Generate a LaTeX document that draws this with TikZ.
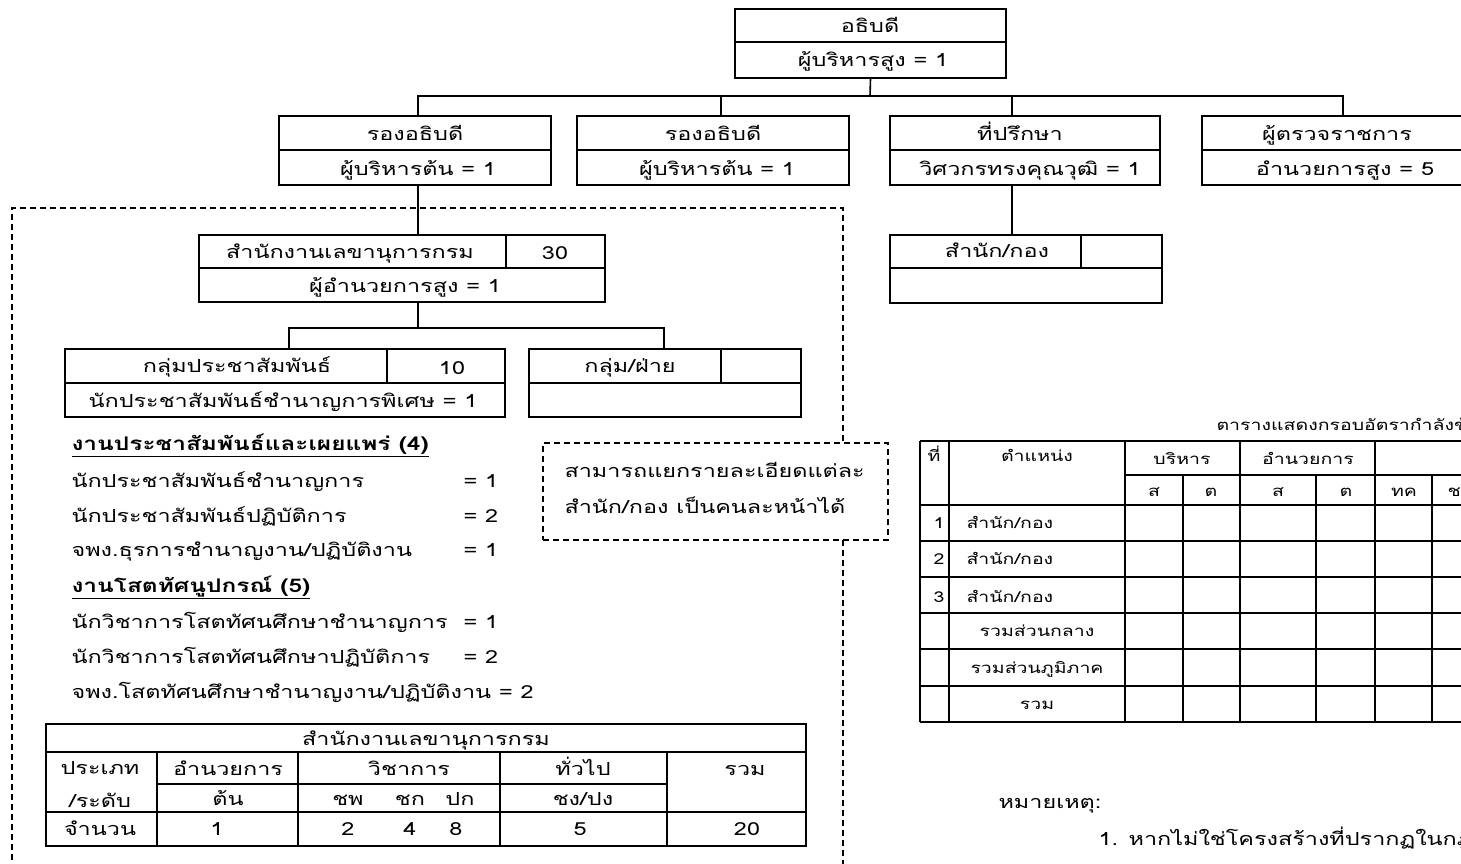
\documentclass[tikz,border=0pt]{standalone}
\usepackage{fontspec}
\setmainfont[Script=Thai, FakeStretch=1.3]{Loma}

\begin{document}
\begin{tikzpicture}[x=1pt,y=1pt,yscale=-1,xscale=1,line width=1.6pt,
  box/.style={draw, inner sep=0pt},
  txt/.style={inner sep=0.75pt, anchor=mid, font=\fontsize{18}{21}\selectfont},
  sml/.style={inner sep=0.75pt, anchor=mid, font=\fontsize{15}{18}\selectfont},
  hd/.style={inner sep=0.75pt, anchor=mid west, font=\fontsize{18.8}{22}\selectfont\bfseries},
  dashline/.style={dash pattern=on 6pt off 4pt, line width=1.3pt}]
        \useasboundingbox (0,0) rectangle (1461,864);
        \clip (0,0) rectangle (1461,864);

        %Shape: Rectangle [top]
        \node[box, minimum width=271pt, minimum height=69pt] (dg) at (870.5,43.5) {};
        \draw (735,42) -- (1006,42);
        %Shape: Rectangle [row 2]
        \node[box, minimum width=272pt, minimum height=69pt] (dep1) at (415,150.5) {};
        \draw (279,150) -- (551,150);
        \node[box, minimum width=272pt, minimum height=69pt] (dep2) at (713,150.5) {};
        \draw (577,150) -- (849,150);
        \node[box, minimum width=270pt, minimum height=69pt] (adv) at (1025,150.5) {};
        \draw (890,150) -- (1160,150);
        \node[box, minimum width=272pt, minimum height=69pt] (insp) at (1338,150.5) {};
        \draw (1202,150) -- (1474,150);
        %Shape: Rectangle [secretariat]
        \node[box, minimum width=406pt, minimum height=67pt] (sec) at (402,268.5) {};
        \draw (199,268) -- (605,268) (506,235) -- (506,268);
        %Shape: Rectangle [office]
        \node[box, minimum width=272pt, minimum height=68pt] (off) at (1026,269) {};
        \draw (890,268) -- (1162,268) (1081,235) -- (1081,268);
        %Shape: Rectangle [groups]
        \node[box, minimum width=440pt, minimum height=68pt] (pr) at (285,383) {};
        \draw (65,383) -- (505,383) (387,349) -- (387,383);
        \node[box, minimum width=272pt, minimum height=68pt] (grp) at (665,383) {};
        \draw (529,383) -- (801,383) (721,349) -- (721,383);

        % Connectors
        \coordinate (bar) at (870,96);
        \coordinate (d1) at (418,116);
        \coordinate (d2) at (721,116);
        \coordinate (d3) at (1012,116);
        \coordinate (d4) at (1343,116);
        \draw (dg.south) -- (bar);
        \draw (d1) |- (bar) -| (d4);
        \draw (d2) -- (d2 |- bar);
        \draw (d3) -- (d3 |- bar);
        \draw (d1 |- dep1.south) -- (d1 |- sec.north);
        \draw (d3 |- adv.south) -- (d3 |- off.north);
        \coordinate (bar2) at (418,328);
        \coordinate (g1) at (289,349);
        \coordinate (g2) at (664,349);
        \draw (bar2 |- sec.south) -- (bar2);
        \draw (g1) |- (bar2) -| (g2);

        %Shape: Dashed frame and note
        \draw[dashline] (12,870) -- (12,208) -- (843,208) -- (843,443);
        \draw[dashline] (843,540) -- (843,870);
        \node[draw, dashline, minimum width=345pt, minimum height=97pt] (note) at (715.5,491.5) {};

        % Text Node
        \node[txt] (dgt) at (870,30) {อธิบดี};
        \node[txt] (dgb) at (873,64) {ผู้บริหารสูง = 1};
        \node[txt] (dep1t) at (415,138) {รองอธิบดี};
        \node[txt] (dep1b) at (418,173) {ผู้บริหารต้น = 1};
        \node[txt] (dep2t) at (713,138) {รองอธิบดี};
        \node[txt] (dep2b) at (717,173) {ผู้บริหารต้น = 1};
        \node[txt] (advt) at (1020,138) {ที่ปรึกษา};
        \node[txt] (advb) at (1030,173) {วิศวกรทรงคุณวุฒิ = 1};
        \node[txt] (inspt) at (1337,138) {ผู้ตรวจราชการ};
        \node[txt] (inspb) at (1345,173) {อำนวยการสูง = 5};
        \node[txt] (sect) at (350,256) {สำนักงานเลขานุการกรม};
        \node[txt] (secn) at (555,257) {30};
        \node[txt] (secb) at (405,290) {ผู้อำนวยการสูง = 1};
        \node[txt] (offt) at (997,255) {สำนัก/กอง};
        \node[txt] (prt) at (237,370) {กลุ่มประชาสัมพันธ์};
        \node[txt] (prn) at (452,372) {10};
        \node[txt] (prb) at (283,405) {นักประชาสัมพันธ์ชำนาญการพิเศษ = 1};
        \node[txt] (grpt) at (630,370) {กลุ่ม/ฝ่าย};

        % Text Node [lists]
        \node[hd] (h1) at (70,448) {\underline{งานประชาสัมพันธ์และเผยแพร่ (4)}};
        \node[txt, anchor=mid west] (l1) at (70,485) {นักประชาสัมพันธ์ชำนาญการ};
        \node[txt, anchor=mid west] (v1) at (462,485) {= 1};
        \node[txt, anchor=mid west] (l2) at (70,520) {นักประชาสัมพันธ์ปฏิบัติการ};
        \node[txt, anchor=mid west] (v2) at (462,520) {= 2};
        \node[txt, anchor=mid west] (l3) at (70,554) {จพง.ธุรการชำนาญงาน/ปฏิบัติงาน};
        \node[txt, anchor=mid west] (v3) at (462,554) {= 1};
        \node[hd] (h2) at (70,590) {\underline{งานโสตทัศนูปกรณ์ (5)}};
        \node[txt, anchor=mid west] (l4) at (70,626) {นักวิชาการโสตทัศนศึกษาชำนาญการ};
        \node[txt, anchor=mid west] (v4) at (462,626) {= 1};
        \node[txt, anchor=mid west] (l5) at (70,661) {นักวิชาการโสตทัศนศึกษาปฏิบัติการ};
        \node[txt, anchor=mid west] (v5) at (462,661) {= 2};
        \node[txt, anchor=mid west] (l6) at (70,696) {จพง.โสตทัศนศึกษาชำนาญงาน/ปฏิบัติงาน = 2};
        \node[txt, anchor=mid west] (n1) at (563,475) {สามารถแยกรายละเอียดแต่ละ};
        \node[txt, anchor=mid west] (n2) at (563,511) {สำนัก/กอง เป็นคนละหน้าได้};

        %Shape: Table [secretariat]
        \draw (46,724) rectangle (806,846);
        \draw (46,752) -- (806,752) (157,784) -- (667,784) (46,812) -- (806,812);
        \draw (157,752) -- (157,846) (298,752) -- (298,846) (500,752) -- (500,846) (667,752) -- (667,846);
        % Text Node
        \node[txt] (tt) at (426,743) {สำนักงานเลขานุการกรม};
        \node[txt] (ta1) at (100,772) {ประเภท};
        \node[txt] (ta2) at (100,805) {/ระดับ};
        \node[txt] (ta3) at (100,833) {จำนวน};
        \node[txt] (tb1) at (228,773) {อำนวยการ};
        \node[txt] (tb2) at (228,803) {ต้น};
        \node[txt] (tb3) at (217,833) {1};
        \node[txt] (tc1) at (409,773) {วิชาการ};
        \node[txt] (tc2) at (348,803) {ชพ};
        \node[txt] (tc3) at (410,803) {ชก};
        \node[txt] (tc4) at (460,803) {ปก};
        \node[txt] (tc5) at (348,833) {2};
        \node[txt] (tc6) at (410,833) {4};
        \node[txt] (tc7) at (456,833) {8};
        \node[txt] (td1) at (583,773) {ทั่วไป};
        \node[txt] (td2) at (583,803) {ชง/ปง};
        \node[txt] (td3) at (580,833) {5};
        \node[txt] (te1) at (745,773) {รวม};
        \node[txt] (te2) at (747,833) {20};

        %Shape: Table [right]
        \draw (920,441) -- (1480,441) (1125,475) -- (1480,475);
        \draw (920,505) -- (1480,505) (920,541) -- (1480,541) (920,577) -- (1480,577) (920,613) -- (1480,613);
        \draw (920,649) -- (1480,649) (920,686) -- (1480,686) (920,722) -- (1480,722);
        \draw (920,441) -- (920,722) (949,441) -- (949,722) (1125,441) -- (1125,722) (1240,441) -- (1240,722) (1375,441) -- (1375,722);
        \draw (1183,475) -- (1183,722) (1316,475) -- (1316,722) (1432,475) -- (1432,722);
        % Text Node
        \node[sml, font=\fontsize{15}{18}\selectfont, anchor=mid west] (rtt) at (1215,428) {ตารางแสดงกรอบอัตรากำลังข้าราชการ};
        \node[sml] (rh1) at (934,459) {ที่};
        \node[sml] (rh2) at (1037,459) {ตำแหน่ง};
        \node[sml] (rh3) at (1182,462) {บริหาร};
        \node[sml] (rh4) at (1308,462) {อำนวยการ};
        \node[sml] (rs1) at (1154,494) {ส};
        \node[sml] (rs2) at (1211,494) {ต};
        \node[sml] (rs3) at (1278,494) {ส};
        \node[sml] (rs4) at (1346,494) {ต};
        \node[sml] (rs5) at (1404,494) {ทค};
        \node[sml, anchor=mid west] (rs6) at (1446,494) {ชช};
        \node[sml, anchor=mid east] (r1n) at (946,526) {1};
        \node[sml, anchor=mid west] (r1) at (965,526) {สำนัก/กอง};
        \node[sml, anchor=mid east] (r2n) at (946,562) {2};
        \node[sml, anchor=mid west] (r2) at (965,562) {สำนัก/กอง};
        \node[sml, anchor=mid east] (r3n) at (946,600) {3};
        \node[sml, anchor=mid west] (r3) at (965,600) {สำนัก/กอง};
        \node[sml] (r4) at (1037,634) {รวมส่วนกลาง};
        \node[sml] (r5) at (1037,671) {รวมส่วนภูมิภาค};
        \node[sml] (r6) at (1037,707) {รวม};
        \node[txt, anchor=mid west] (rem) at (997,806) {หมายเหตุ:};
        \node[txt, anchor=mid west] (rem1) at (1097,843) {1. หากไม่ใช่โครงสร้างที่ปรากฏในกฎกระทรวง};

\end{tikzpicture}
\end{document}
